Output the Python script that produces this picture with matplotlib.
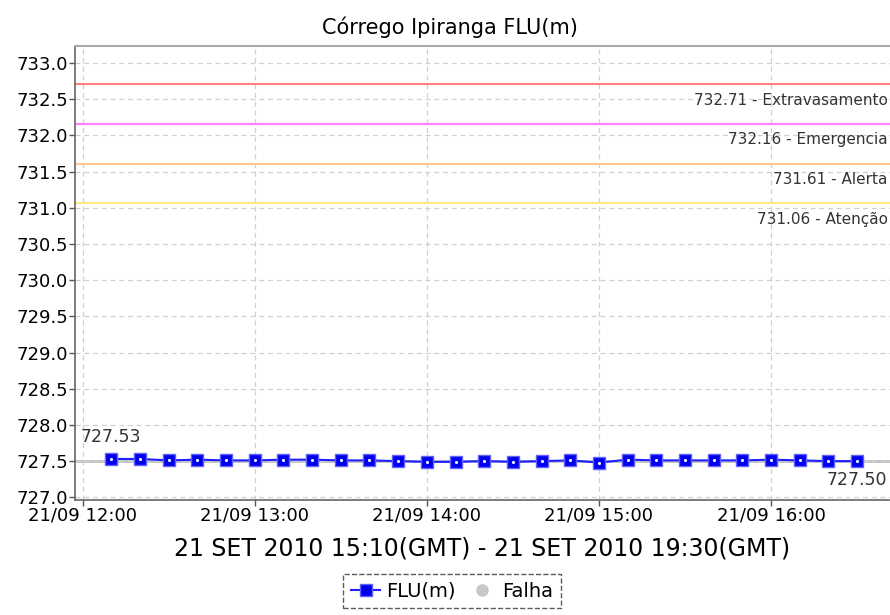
import numpy as np
import pandas as pd
import matplotlib
matplotlib.use('Agg')
import matplotlib.pyplot as plt
import matplotlib.dates as mdates

# readings every 10 min (local time), 21/09/2010
times = ['12:10', '12:20', '12:30', '12:40', '12:50', '13:00', '13:10', '13:20', '13:30',
         '13:40', '13:50', '14:00', '14:10', '14:20', '14:30', '14:40', '14:50', '15:00',
         '15:10', '15:20', '15:30', '15:40', '15:50', '16:00', '16:10', '16:20', '16:30']
levels = [727.53, 727.53, 727.51, 727.52, 727.51, 727.51, 727.52, 727.52, 727.51,
          727.51, 727.50, 727.49, 727.49, 727.50, 727.49, 727.50, 727.51, 727.48,
          727.52, 727.51, 727.51, 727.51, 727.51, 727.52, 727.51, 727.50, 727.50]

# alarm thresholds
thr_values = [732.71, 732.16, 731.61, 731.06]
thr_names = ['Extravasamento', 'Emergencia', 'Alerta', 'Atenção']
thr_colors = ['#ff8080', '#ff80ff', '#ffc890', '#ffe880']

title = 'Córrego Ipiranga FLU(m)'
xlabel = '21 SET 2010 15:10(GMT) - 21 SET 2010 19:30(GMT)'

t = pd.to_datetime(['2010-09-21 ' + s for s in times])

fig = plt.figure(figsize=(8.9, 6.15), dpi=100)
ax = fig.add_axes([0.0843, 0.187, 0.9157, 0.738])

# thresholds
for val, name, col in zip(thr_values, thr_names, thr_colors):
    ax.axhline(val, color=col, lw=1.5, zorder=2)
    ax.text(0.997, val - 0.12, f'{val:.2f} - {name}', transform=ax.get_yaxis_transform(),
            ha='right', va='top', fontsize=11, color='#333333')

# last value reference line
ax.axhline(levels[-1], color='#c0c0c0', lw=2, zorder=1)

ax.plot(t, levels, color='#2020ff', lw=1.5, marker='s', markersize=8,
        markerfacecolor='#0000ee', markeredgecolor='#6060ff', label='FLU(m)', zorder=4)
ax.plot(t, levels, ls='none', marker='o', markersize=1.2, color='white', zorder=5)
ax.plot([], [], ls='none', marker='o', markersize=8, color='#c8c8c8', label='Falha')

# first / last value labels
ax.annotate(f'{levels[0]:.2f}', (t[0], levels[0]), xytext=(-22, 9), textcoords='offset points',
            ha='left', va='bottom', fontsize=12.5, color='#333333')
ax.annotate(f'{levels[-1]:.2f}', (t[-1], levels[-1]), xytext=(22, -7), textcoords='offset points',
            ha='right', va='top', fontsize=12.5, color='#333333')

ax.set_ylim(726.963, 733.232)
ax.set_yticks(np.arange(727.0, 733.01, 0.5))
ax.yaxis.set_major_formatter(matplotlib.ticker.FormatStrFormatter('%.1f'))
ax.set_xlim(pd.Timestamp('2010-09-21 11:57:20'), pd.Timestamp('2010-09-21 16:41:30'))
ax.xaxis.set_major_locator(mdates.HourLocator())
ax.xaxis.set_major_formatter(mdates.DateFormatter('%d/%m %H:%M'))

ax.grid(True, color='#d0d0d0', ls=(0, (4, 3)), lw=0.9)
ax.tick_params(labelsize=13, length=4, width=1, color='#555555', pad=1)
for s in ['left', 'bottom']:
    ax.spines[s].set_color('#666666')
    ax.spines[s].set_linewidth(1.2)
ax.spines['top'].set_color('#aaaaaa')
ax.spines['top'].set_linewidth(1.5)
ax.spines['right'].set_visible(False)

fig.text(0.505, 0.955, title, ha='center', va='center', fontsize=15)
ax.set_xlabel(xlabel, fontsize=17, labelpad=8)

leg = fig.legend(loc='lower center', bbox_to_anchor=(0.508, -0.005), ncol=2, fontsize=14,
                 frameon=True, fancybox=False, handlelength=1.5, handletextpad=0.3,
                 columnspacing=0.6, borderpad=0.4)
leg.get_frame().set_edgecolor('#333333')
leg.get_frame().set_linestyle('--')

fig.savefig('out.png', dpi=100)
